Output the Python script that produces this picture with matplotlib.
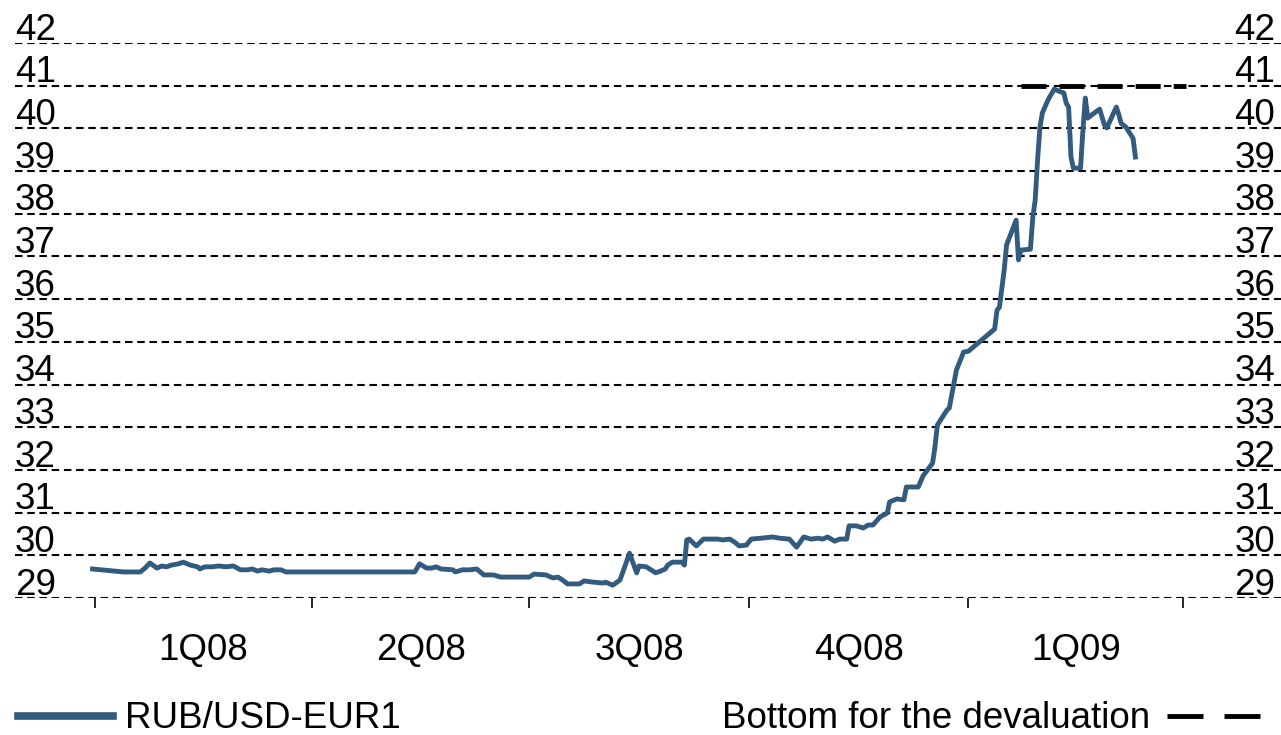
import numpy as np
import pandas as pd
import matplotlib
matplotlib.use("Agg")
import matplotlib.pyplot as plt
from matplotlib.lines import Line2D

plt.rcParams['font.family'] = ['Liberation Sans', 'DejaVu Sans']

# RUB/USD-EUR basket, days counted from 2008-01-01
days = [-1, 12, 19, 21, 23, 26, 28, 30, 32, 35, 37, 40, 43, 44, 46, 49, 52, 55, 58, 61,
        64, 66, 68, 70, 73, 75, 78, 80, 134, 136, 139, 141, 143, 145, 150, 151, 154, 157,
        160, 161, 163, 167, 170, 178, 182, 184, 189, 191, 192, 194, 196, 198, 203, 205,
        209, 213, 214, 217, 220, 222, 224, 227, 228, 231, 235, 237, 239, 240, 242, 246,
        247, 248, 249, 252, 255, 258, 261, 263, 266, 268, 270, 273, 275, 279, 284, 287,
        291, 294, 297, 300, 303, 305, 307, 310, 312, 315, 316, 319, 322, 324, 326, 329,
        332, 333, 336, 339, 340, 345, 347, 351, 352, 353, 357, 358, 361, 364, 366, 377,
        378, 379, 381, 382, 386, 387, 388, 392, 393, 394, 395, 396, 397, 399, 400, 402,
        404, 406, 407, 408, 409, 410, 413, 414, 415, 416, 418, 421, 423, 424, 428, 429,
        430, 432, 435, 436]
basket = [29.68, 29.61, 29.61, 29.70, 29.82, 29.70, 29.75, 29.73, 29.77, 29.80, 29.84,
          29.77, 29.73, 29.68, 29.73, 29.73, 29.75, 29.73, 29.75, 29.66, 29.66, 29.68,
          29.63, 29.66, 29.63, 29.66, 29.66, 29.61, 29.61, 29.80, 29.70, 29.70, 29.73,
          29.68, 29.66, 29.61, 29.66, 29.66, 29.68, 29.63, 29.54, 29.54, 29.49, 29.49,
          29.49, 29.56, 29.54, 29.49, 29.47, 29.49, 29.42, 29.33, 29.33, 29.40, 29.37,
          29.35, 29.37, 29.30, 29.42, 29.73, 30.05, 29.59, 29.75, 29.73, 29.59, 29.63,
          29.68, 29.77, 29.84, 29.84, 29.77, 30.36, 30.38, 30.22, 30.38, 30.38, 30.38,
          30.36, 30.38, 30.31, 30.22, 30.24, 30.38, 30.40, 30.43, 30.40, 30.38, 30.19,
          30.43, 30.38, 30.40, 30.38, 30.43, 30.33, 30.38, 30.38, 30.69, 30.69, 30.64,
          30.71, 30.71, 30.90, 30.99, 31.25, 31.32, 31.30, 31.60, 31.60, 31.86, 32.16,
          32.54, 33.05, 33.40, 33.45, 34.34, 34.76, 34.78, 35.30, 35.74, 35.81, 36.68,
          37.27, 37.85, 36.92, 37.15, 37.17, 37.92, 38.32, 39.26, 40.03, 40.36, 40.62,
          40.73, 40.92, 40.87, 40.83, 40.59, 40.50, 39.33, 39.07, 39.07, 39.96, 40.71,
          40.24, 40.33, 40.45, 40.08, 40.01, 40.50, 40.33, 40.12, 40.03, 39.77, 39.33]

bottom_dates = ['2009-01-23', '2009-04-02']
bottom_level = [41, 41]

y_ticks = list(range(29, 43))
quarter_starts = ['2008-01-01', '2008-04-01', '2008-07-01', '2008-10-01', '2009-01-01', '2009-04-01']
quarter_labels = ['1Q08', '2Q08', '3Q08', '4Q08', '1Q09']

LINE_COLOR = '#335B7F'
FS = 26.5

dates = pd.Timestamp('2008-01-01') + pd.to_timedelta(days, unit='D')
qs = pd.to_datetime(quarter_starts)
q_mid = qs[:-1] + (qs[1:] - qs[:-1]) / 2

fig = plt.figure(figsize=(12.81, 7.35), dpi=100)
ax = fig.add_axes([15 / 1281, 137 / 735, 1 - 15 / 1281, 555 / 735])

# dashed grid
glw = 1.5
for v in y_ticks:
    ax.axhline(v, color='black', lw=glw, ls=(0, (5.4 / glw, 3.4 / glw)), zorder=1)

ax.plot(dates, basket, color=LINE_COLOR, lw=3.5, solid_joinstyle='round', zorder=3)
blw = 3.5
ax.plot(pd.to_datetime(bottom_dates), bottom_level, color='black', lw=blw,
        ls=(0, (18 / blw, 9.4 / blw)), zorder=4, dash_capstyle='butt')

ax.set_ylim(29, 42)
ax.set_xlim(pd.Timestamp('2007-11-28 12:00'), pd.Timestamp('2009-05-12'))
for s in ax.spines.values():
    s.set_visible(False)
ax.set_yticks([])

ax.set_xticks(qs)
ax.set_xticklabels([])
ax.tick_params(axis='x', which='major', direction='out', length=7.5, width=1.2, color='black')
ax.set_xticks(q_mid, minor=True)
ax.set_xticklabels(quarter_labels, minor=True, fontsize=FS)
ax.tick_params(axis='x', which='minor', length=0, pad=25)

# y labels sit just above their gridlines, on both sides
tr = ax.get_yaxis_transform()
for v in y_ticks:
    ax.text(0, v + 0.08, str(v), transform=tr, ha='left', va='baseline', fontsize=FS, zorder=5)
    ax.text(1 - 6 / 1266, v + 0.08, str(v), transform=tr, ha='right', va='baseline', fontsize=FS, zorder=5)

# legend
W, H = 1281, 735
fig.add_artist(Line2D([18 / W, 113 / W], [1 - 716 / H] * 2, color=LINE_COLOR, lw=5.5))
fig.text(125 / W, 1 - 718 / H, 'RUB/USD-EUR1', fontsize=FS, va='center', ha='left')
fig.text(1150 / W, 1 - 718 / H, 'Bottom for the devaluation', fontsize=FS, va='center', ha='right')
fig.add_artist(Line2D([1167 / W, 1203 / W], [1 - 716 / H] * 2, color='black', lw=3.5, solid_capstyle='butt'))
fig.add_artist(Line2D([1224 / W, 1260 / W], [1 - 716 / H] * 2, color='black', lw=3.5, solid_capstyle='butt'))

fig.savefig('out.png', dpi=100)
